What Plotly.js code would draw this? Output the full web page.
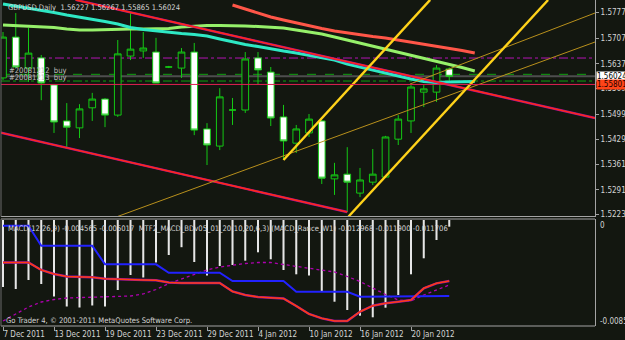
<!DOCTYPE html>
<html><head><meta charset="utf-8">
<script src="https://cdn.plot.ly/plotly-3.0.1.min.js"></script>
<style>html,body{margin:0;padding:0;background:#131710;}#chart{width:625px;height:340px;}</style>
</head><body><div id="chart"></div>
<script>
// ---------- data ----------
const dates = ["2011-12-07","2011-12-08","2011-12-09","2011-12-12","2011-12-13","2011-12-14","2011-12-15","2011-12-16","2011-12-19","2011-12-20","2011-12-21","2011-12-22","2011-12-23","2011-12-26","2011-12-27","2011-12-28","2011-12-29","2011-12-30","2012-01-02","2012-01-03","2012-01-04","2012-01-05","2012-01-06","2012-01-09","2012-01-10","2012-01-11","2012-01-12","2012-01-13","2012-01-16","2012-01-17","2012-01-18","2012-01-19","2012-01-20","2012-01-23","2012-01-24","2012-01-25"];
const opens  = [1.5598,1.5710,1.5625,1.5653,1.5579,1.5480,1.5461,1.5516,1.5540,1.5496,1.5658,1.5672,1.5669,1.5628,1.5625,1.5669,1.5458,1.5411,1.5510,1.5510,1.5653,1.5614,1.5491,1.5419,1.5447,1.5480,1.5321,1.5334,1.5282,1.5312,1.5326,1.5430,1.5480,1.5559,1.5559,1.56227];
const highs  = [1.5724,1.5776,1.5735,1.5661,1.5581,1.5529,1.5526,1.5557,1.5543,1.5702,1.5776,1.5724,1.5708,1.5631,1.5680,1.5694,1.5474,1.5570,1.5543,1.5669,1.5669,1.5628,1.5524,1.5469,1.5499,1.5482,1.5365,1.5408,1.5351,1.5403,1.5439,1.5496,1.5579,1.5579,1.5633,1.56267];
const lows   = [1.5592,1.5625,1.5587,1.5537,1.5447,1.5408,1.5433,1.5480,1.5463,1.5491,1.5647,1.5653,1.5584,1.5625,1.5598,1.5441,1.5359,1.5400,1.5469,1.5502,1.5581,1.5466,1.5373,1.5392,1.5436,1.5307,1.5277,1.5230,1.5271,1.5304,1.5326,1.5414,1.5447,1.5518,1.5532,1.55865];
const closes = [1.5710,1.5628,1.5666,1.5584,1.5477,1.5463,1.5513,1.5540,1.5496,1.5664,1.5677,1.5680,1.5584,1.5628,1.5669,1.5455,1.5414,1.5546,1.5510,1.5650,1.5620,1.5488,1.5425,1.5458,1.5485,1.5323,1.5332,1.5312,1.5318,1.5334,1.5436,1.5485,1.5573,1.5568,1.5625,1.56024];

// moving averages (shifted 2 bars forward, bar index 0..37)
const maCyan  = [1.58008,1.57953,1.57898,1.57843,1.57775,1.57706,1.57651,1.57583,1.57528,1.57459,1.57363,1.57308,1.57267,1.57240,1.57199,1.57171,1.57130,1.57048,1.56965,1.56897,1.56842,1.56773,1.56718,1.56664,1.56595,1.56540,1.56472,1.56362,1.56279,1.56183,1.56101,1.56019,1.55950,1.55882,1.55854,1.55868,1.55868,1.55882];
const maGreen = [1.57432,1.57418,1.57404,1.57391,1.57363,1.57322,1.57295,1.57295,1.57308,1.57322,1.57322,1.57322,1.57322,1.57336,1.57377,1.57404,1.57418,1.57418,1.57418,1.57404,1.57391,1.57377,1.57349,1.57295,1.57240,1.57185,1.57103,1.57020,1.56938,1.56856,1.56773,1.56691,1.56609,1.56526,1.56444,1.56362,1.56266,1.56170];
const maSalmonStart = 18;
const maSalmon = [1.57980,1.57871,1.57761,1.57651,1.57569,1.57487,1.57404,1.57336,1.57267,1.57212,1.57157,1.57116,1.57075,1.57020,1.56965,1.56910,1.56856,1.56801,1.56732,1.56664];

// trend lines: [barIndex, price] anchor pairs
const trendRedUpper = [[5.7,1.58121],[46.43,1.54880]];
const trendRedLower = [[-0.16,1.54475],[27,1.52301]];
const trendYellowA  = [[22,1.53728],[33.5,1.58122]];
const trendYellowB  = [[27.1,1.52178],[42.75,1.58118]];
const trendGoldA    = [[8.98,1.52178],[46.43,1.56965]];
const trendGoldB    = [[31.92,1.55813],[46.43,1.57761]];

// horizontal levels
const levelMagenta = 1.56526, levelBuy1 = 1.56079, levelBid = 1.56024, levelBuy2 = 1.55895, levelAsk = 1.55801;

// MACD window
const histMACD   = [-0.005482,-0.005646,-0.004910,-0.005237,-0.006260,-0.007078,-0.007160,-0.006996,-0.007078,-0.005728,-0.004501,-0.004705,-0.003478,-0.002864,-0.002226,-0.003437,-0.004542,-0.003764,-0.003682,-0.003330,-0.002643,-0.003216,-0.004092,-0.004443,-0.004542,-0.005810,-0.006686,-0.007365,-0.007831,-0.007962,-0.007177,-0.006137,-0.004443,-0.003134,-0.001637,-0.000548];
const signalMACD = [-0.008265,-0.007692,-0.007120,-0.006710,-0.006506,-0.006382,-0.006342,-0.006301,-0.006301,-0.006276,-0.006219,-0.006055,-0.005687,-0.005196,-0.004828,-0.004501,-0.004091,-0.003846,-0.003682,-0.003560,-0.003478,-0.003478,-0.003641,-0.003805,-0.003969,-0.004091,-0.004255,-0.004623,-0.005033,-0.005565,-0.006096,-0.006546,-0.006628,-0.006137,-0.005728,-0.005319];
const blueMTF    = [-0.000466,-0.000466,-0.000466,-0.002103,-0.002103,-0.002103,-0.002103,-0.002103,-0.003625,-0.003625,-0.003625,-0.003625,-0.003625,-0.004313,-0.004313,-0.004313,-0.004313,-0.004313,-0.004992,-0.004992,-0.004992,-0.004992,-0.004992,-0.005867,-0.005867,-0.005867,-0.005867,-0.005867,-0.006277,-0.006277,-0.006277,-0.006277,-0.006277,-0.006277,-0.006277,-0.006219];
const redMTF     = [-0.003478,-0.003478,-0.003478,-0.004091,-0.004419,-0.004623,-0.004664,-0.004689,-0.004803,-0.004852,-0.004869,-0.004910,-0.004934,-0.005114,-0.005155,-0.005155,-0.005155,-0.005155,-0.005851,-0.006137,-0.006301,-0.006382,-0.006423,-0.007037,-0.007692,-0.008044,-0.008265,-0.008265,-0.007504,-0.007013,-0.006817,-0.006686,-0.006546,-0.005589,-0.005180,-0.004992];

// axis labels
const tickIdx    = [0,4,8,12,16,20,24,28,32];
const tickLabels = ["7 Dec 2011","13 Dec 2011","19 Dec 2011","23 Dec 2011","29 Dec 2011","4 Jan 2012","10 Jan 2012","16 Jan 2012","20 Jan 2012"];
const priceTicks = [1.5777,1.5707,1.5637,1.5569,1.5499,1.5429,1.5361,1.5291,1.5223];
const priceTickText = ["1.57770","1.57070","1.56370","1.55690","1.54990","1.54290","1.53610","1.52910","1.52230"];
const macdTop = 0, macdBottom = -0.00851;

const titleText = "GBPUSD,Daily  1.56227 1.56267 1.55865 1.56024";
const orderTexts = ["#20081212  buy","#20081213  buy"];
const macdHeader = "MACD(12,26,9) -0.004565 -0.005017  MTF2_MACD_BDv05_01_20(10,20,6,3) (MACD_Rance_W1) -0.012968 -0.011900 -0.011706";
const copyright = "Go Trader 4, \u00a9 2001-2011 MetaQuotes Software Corp.";

// ---------- layout helpers ----------
const W = 625, H = 340, M = {l:1, r:30, t:0, b:14};
const PW = W - M.l - M.r, PH = H - M.t - M.b;
const X = px => (px - M.l) / PW;
const Y = py => (M.t + PH - py) / PH;
const BG = '#131710';
const FONT = '"Liberation Sans Narrow","DejaVu Sans Condensed","Liberation Sans",Arial,sans-serif';
const TXT = '#d4d4d4';
const AX = 8;
const idx = dates.map((d, i) => i);
const idxMA = maCyan.map((v, i) => i);
const idxSalmon = maSalmon.map((v, i) => i + maSalmonStart);

const line = (pts, color, width, dash) => ({
  type:'scatter', mode:'lines', x: pts.map(p => p[0]), y: pts.map(p => p[1]),
  xaxis:'x', yaxis:'y', hoverinfo:'skip', line:{color, width, dash: dash || 'solid'}
});

const traces = [
  {type:'candlestick', x: idx, open: opens, high: highs, low: lows, close: closes, xaxis:'x', yaxis:'y',
   whiskerwidth:0,
   increasing:{line:{color:'#14c814', width:1}, fillcolor:BG},
   decreasing:{line:{color:'#14c814', width:1}, fillcolor:'#ffffff'}, hoverinfo:'skip'},
  {type:'scatter', mode:'lines', x: idxMA, y: maGreen, line:{color:'#96f06a', width:3}, xaxis:'x', yaxis:'y', hoverinfo:'skip'},
  {type:'scatter', mode:'lines', x: idxMA, y: maCyan, line:{color:'#2ee8c4', width:3}, xaxis:'x', yaxis:'y', hoverinfo:'skip'},
  {type:'scatter', mode:'lines', x: idxSalmon, y: maSalmon, line:{color:'#ff5648', width:3}, xaxis:'x', yaxis:'y', hoverinfo:'skip'},
  line(trendRedUpper, '#9a10a8', 2.4), line(trendRedUpper, '#ff2818', 1.6),
  line(trendRedLower, '#9a10a8', 2.4), line(trendRedLower, '#ff2818', 1.6),
  line(trendGoldA, '#b8901c', 1), line(trendGoldB, '#b8901c', 1),
  line(trendYellowA, '#ffd21a', 2.4), line(trendYellowB, '#ffd21a', 2.4),
  // MACD window
  {type:'bar', x: idx, y: histMACD, width: 0.16, marker:{color:'#e6e6e6', line:{width:0}}, xaxis:'x', yaxis:'y2', hoverinfo:'skip'},
  {type:'scatter', mode:'lines', x: idx, y: signalMACD, line:{color:'#b000b0', width:1.3, dash:'dot'}, xaxis:'x', yaxis:'y2', hoverinfo:'skip'},
  {type:'scatter', mode:'lines', x: idx, y: blueMTF, line:{color:'#2222ff', width:2}, xaxis:'x', yaxis:'y2', hoverinfo:'skip'},
  {type:'scatter', mode:'lines', x: idx, y: redMTF, line:{color:'#9010b0', width:2.4}, xaxis:'x', yaxis:'y2', hoverinfo:'skip'},
  {type:'scatter', mode:'lines', x: idx, y: redMTF, line:{color:'#ff3c10', width:1.6}, xaxis:'x', yaxis:'y2', hoverinfo:'skip'}
];

const hline = (y, color, width, dash, layer) => ({type:'line', xref:'paper', yref:'y', x0:0, x1:1, y0:y, y1:y, line:{color, width, dash}, layer: layer || 'below'});
const BORDER = '#a4a4a4';
const mainBottom = Y(216.5), macdTopY = Y(219);
const shapes = [
  hline(levelMagenta, '#b414b4', 1, 'dashdot'),
  hline(levelBid, '#4e4e4e', 2, 'solid'),
  hline(levelBuy1, '#10a010', 1, 'dash'),
  hline(levelBuy2, '#10a010', 1, 'dashdot'),
  hline(levelAsk, '#e02050', 1, 'solid', 'above'),
  {type:'line', xref:'paper', yref:'paper', x0:0, x1:1, y0:mainBottom, y1:mainBottom, line:{color:BORDER, width:1}},
  {type:'line', xref:'paper', yref:'paper', x0:0, x1:1, y0:macdTopY, y1:macdTopY, line:{color:BORDER, width:1}},
  {type:'line', xref:'paper', yref:'paper', x0:0, x1:1, y0:0, y1:0, line:{color:BORDER, width:1}},
  {type:'line', xref:'paper', yref:'paper', x0:0, x1:0, y0:mainBottom, y1:1, line:{color:'#6a6a6a', width:1}},
  {type:'line', xref:'paper', yref:'paper', x0:0, x1:0, y0:0, y1:macdTopY, line:{color:'#6a6a6a', width:1}}
];

const SMALL = 7.6;
const txt = (text, px, py, color) => ({
  text, xref:'paper', yref:'paper', x: X(px), y: Y(py), xanchor:'left', yanchor:'middle',
  showarrow:false, font:{family:FONT, size:SMALL, color: color || TXT}
});

const annotations = [
  txt(titleText, 6, 7.5),
  txt(orderTexts[0], 7, 70.5, '#bcbcbc'),
  txt(orderTexts[1], 7, 77.5, '#bcbcbc'),
  txt(macdHeader, 6, 228),
  txt(copyright, 4, 320),
  {text: String(macdTop), xref:'paper', yref:'y2', x: X(598), y: macdTop, xanchor:'left', yanchor:'top', yshift:1, showarrow:false, font:{family:FONT, size:AX, color:TXT}},
  {text: macdBottom.toFixed(5), xref:'paper', yref:'paper', x: X(598), y: Y(321.5), xanchor:'left', yanchor:'middle', showarrow:false, font:{family:FONT, size:AX, color:TXT}},
  {text: levelBid.toFixed(5), xref:'paper', yref:'y', x: X(596), y: levelBid, xanchor:'left', yanchor:'middle', showarrow:false, bgcolor:'#ffffff', borderpad:0, font:{family:FONT, size:AX, color:'#000000'}},
  {text: levelAsk.toFixed(5), xref:'paper', yref:'y', x: X(596), y: levelAsk, xanchor:'left', yanchor:'middle', showarrow:false, bgcolor:'#ff4418', borderpad:0, font:{family:FONT, size:AX, color:'#1a0000'}}
];

const layout = {
  width: W, height: H, margin: {l:M.l, r:M.r, t:M.t, b:M.b, pad:0},
  paper_bgcolor: BG, plot_bgcolor: BG, showlegend:false, boxgap:0.25, barmode:'overlay',
  font:{family:FONT, size:AX, color:TXT},
  xaxis:{range:[-0.157, 46.43], anchor:'y2', tickmode:'array', tickvals: tickIdx, ticktext: tickLabels,
    tickangle:0, ticks:'outside', ticklen:4, tickcolor:'#a0a0a0', ticklabelposition:'outside right',
    showgrid:false, zeroline:false, showline:false, rangeslider:{visible:false}, fixedrange:true,
    tickfont:{family:FONT, size:AX, color:TXT}},
  yaxis:{domain:[mainBottom, 1], range:[1.52178, 1.58118], side:'right', anchor:'x', tickmode:'array',
    tickvals: priceTicks, ticktext: priceTickText, ticks:'outside', ticklen:3, tickcolor:'#a0a0a0',
    showgrid:false, zeroline:false, showline:true, linecolor:BORDER, linewidth:1, fixedrange:true,
    tickfont:{family:FONT, size:AX, color:TXT}},
  yaxis2:{domain:[0, macdTopY], range:[-0.008674, 0.0000818], side:'right', anchor:'x',
    showticklabels:false, ticks:'', showgrid:false, zeroline:false, showline:true, linecolor:BORDER, linewidth:1, fixedrange:true},
  shapes, annotations
};

Plotly.newPlot('chart', traces, layout, {displayModeBar:false, staticPlot:true});
</script></body></html>
